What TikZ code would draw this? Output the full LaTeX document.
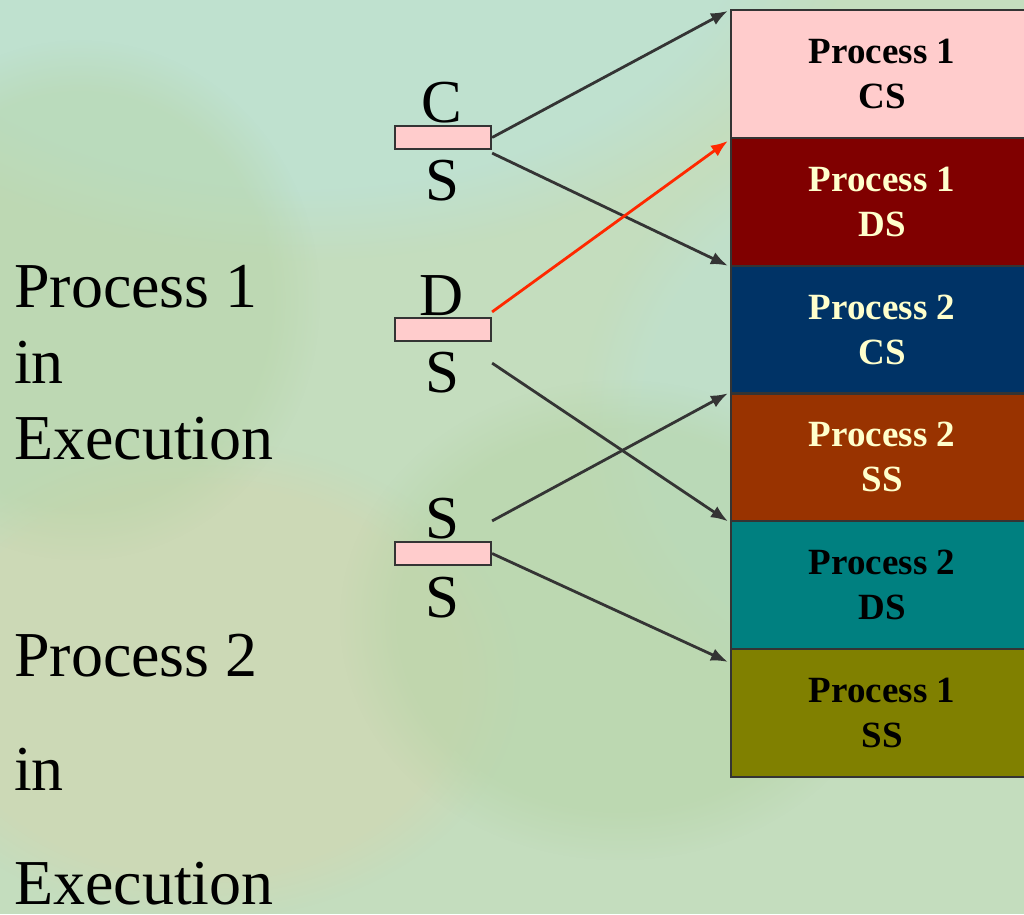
\documentclass[tikz,border=0pt]{standalone}
\usepackage{fontspec}
\setmainfont{Liberation Serif}
\usetikzlibrary{arrows.meta,calc,fadings}

\definecolor{bgbase}{RGB}{196,221,190}
\definecolor{bgteal}{RGB}{190,226,212}
\definecolor{bgtan}{RGB}{212,214,176}
\definecolor{bggreen}{RGB}{182,212,166}
\definecolor{edge}{RGB}{52,52,52}
\definecolor{regpink}{RGB}{255,204,204}
\definecolor{paleyellow}{RGB}{255,255,204}
\definecolor{segpink}{RGB}{255,204,204}
\definecolor{segmaroon}{RGB}{128,0,0}
\definecolor{segnavy}{RGB}{0,51,102}
\definecolor{segrust}{RGB}{153,51,0}
\definecolor{segteal}{RGB}{0,128,128}
\definecolor{segolive}{RGB}{128,128,0}
\definecolor{arrowred}{RGB}{255,40,0}

\tikzset{
  segment/.style={draw=edge, line width=2.2pt, minimum width=302pt,
    minimum height=127.8pt, inner sep=0pt, align=center,
    font=\fontsize{37}{45}\selectfont\bfseries},
  register/.style={draw=edge, line width=2.2pt, fill=regpink,
    minimum width=96pt, minimum height=23pt, inner sep=0pt},
  letter/.style={anchor=base, inner sep=0pt, font=\fontsize{61}{61}\selectfont},
  caption/.style={anchor=base west, inner sep=0pt, font=\fontsize{64}{76}\selectfont},
  link/.style={draw=edge, line width=2.8pt, -{Latex[length=17pt,width=13pt]}},
  redlink/.style={link, draw=arrowred},
  blob/.style={path fading=circle with fuzzy edge 20 percent},
}

\begin{document}
\begin{tikzpicture}[x=1pt,y=-1pt]
\useasboundingbox (0,0) rectangle (1024,914);
\clip (0,0) rectangle (1024,914);

% mottled background
\fill[bgbase] (0,0) rectangle (1024,914);
\fill[bgteal, opacity=0.8, blob] (300,-100) ellipse (560pt and 360pt);
\fill[bgteal, opacity=0.5, blob] (880,420) ellipse (300pt and 300pt);
\fill[bgtan, opacity=0.55, blob] (200,680) ellipse (320pt and 240pt);
\fill[bggreen, opacity=0.5, blob] (620,620) ellipse (280pt and 240pt);
\fill[bggreen, opacity=0.45, blob] (80,300) ellipse (240pt and 260pt);

% memory segments
\node[segment, fill=segpink]                       (p1cs) at (882, 73.9)  {Process 1\\CS};
\node[segment, fill=segmaroon, text=paleyellow]    (p1ds) at (882, 201.7) {Process 1\\DS};
\node[segment, fill=segnavy, text=paleyellow]      (p2cs) at (882, 329.5) {Process 2\\CS};
\node[segment, fill=segrust, text=paleyellow]      (p2ss) at (882, 457.3) {Process 2\\SS};
\node[segment, fill=segteal]                       (p2ds) at (882, 585.1) {Process 2\\DS};
\node[segment, fill=segolive]                      (p1ss) at (882, 712.9) {Process 1\\SS};

% segment registers
\node[register] (csreg) at (443, 137.5) {};
\node[register] (dsreg) at (443, 329.5) {};
\node[register] (ssreg) at (443, 553.5) {};

\node[letter] (cstop) at (442, 122) {C};
\node[letter] (csbot) at (442, 200) {S};
\node[letter] (dstop) at (442, 315) {D};
\node[letter] (dsbot) at (442, 392) {S};
\node[letter] (sstop) at (442, 538) {S};
\node[letter] (ssbot) at (442, 617) {S};

% captions
\node[caption] (c1a) at (14, 307) {Process 1};
\node[caption] (c1b) at (14, 383) {in};
\node[caption] (c1c) at (14, 459) {Execution};
\node[caption] (c2a) at (14, 676) {Process 2};
\node[caption] (c2b) at (14, 790) {in};
\node[caption] (c2c) at (14, 904) {Execution};

% connector end points
\coordinate (a1s) at ($(csreg.east)$);
\coordinate (a2s) at ($(csreg.south east)+(0,3)$);
\coordinate (a3s) at ($(dsreg.north east)+(0,-5)$);
\coordinate (a4s) at ($(dsreg.south east)+(0,21)$);
\coordinate (a5s) at ($(ssreg.north east)+(0,-20)$);
\coordinate (a6s) at ($(ssreg.east)$);
\coordinate (a1e) at ($(p1cs.north west)+(-2,2)$);
\coordinate (a2e) at ($(p1ds.south west)+(-2,-1)$);
\coordinate (a3e) at ($(p1cs.south west)+(-2,2)$);
\coordinate (a4e) at ($(p2ss.south west)+(-2,-1)$);
\coordinate (a5e) at ($(p2ss.north west)+(-2,1)$);
\coordinate (a6e) at ($(p1ss.north west)+(-2,14)$);

\draw[link] (a1s) -- (a1e);
\draw[link] (a2s) -- (a2e);
\draw[link] (a4s) -- (a4e);
\draw[link] (a5s) -- (a5e);
\draw[link] (a6s) -- (a6e);
\draw[redlink] (a3s) -- (a3e);
\end{tikzpicture}
\end{document}
